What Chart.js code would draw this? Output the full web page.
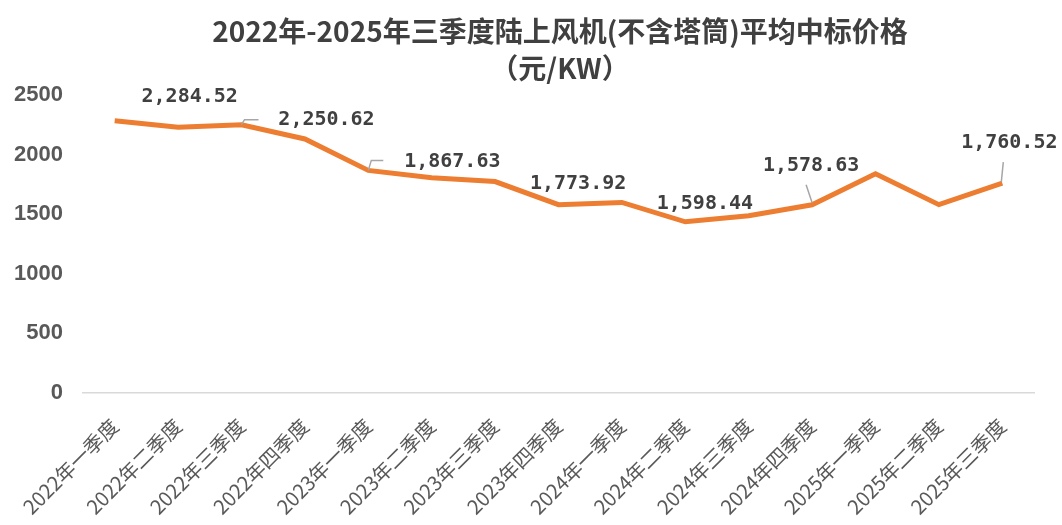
<!DOCTYPE html>
<html>
<head>
<meta charset="utf-8">
<script src="https://cdn.jsdelivr.net/npm/chart.js@4.4.1/dist/chart.umd.min.js"></script>
<style>
  html, body { margin: 0; background: #fff; }
  #wrap { width: 1062px; height: 525px; }
</style>
</head>
<body>
<div id="wrap"><canvas id="chart"></canvas></div>
<script>
const quarters = [
  '2022年一季度', '2022年二季度', '2022年三季度', '2022年四季度',
  '2023年一季度', '2023年二季度', '2023年三季度', '2023年四季度',
  '2024年一季度', '2024年二季度', '2024年三季度', '2024年四季度',
  '2025年一季度', '2025年二季度', '2025年三季度'
];
const prices = [
  2284.52, 2229, 2250.62, 2131,
  1867.63, 1806, 1773.92, 1580,
  1598.44, 1436, 1487, 1578.63,
  1840, 1580, 1760.52
];
const yTicks = [0, 500, 1000, 1500, 2000, 2500];
const labelledPoints = [0, 2, 4, 6, 8, 11, 14];
const titleLines = ['2022年-2025年三季度陆上风机(不含塔筒)平均中标价格', '（元/KW）'];

// where each value label sits relative to its point, plus its leader line
const labelPlacement = {
  0:  { dx: 75, dy: -24 },
  2:  { dx: 85, dy: -5,  leader: [[0, 0], [3, -5], [17, -5]] },
  4:  { dx: 84, dy: -9,  leader: [[0, 0], [3, -10], [15, -10]] },
  6:  { dx: 83, dy: 2 },
  8:  { dx: 83, dy: 1 },
  11: { dx: -1, dy: -39, leader: [[0, -2], [-6, -20]] },
  14: { dx: 7,  dy: -40, leader: [[-1, -1], [1, -21]] }
};

function formatPrice(v) {
  return v.toLocaleString('en-US', { minimumFractionDigits: 2, maximumFractionDigits: 2 });
}

// title drawn by hand: in the original it is centred a bit right of the plot
const chartTitle = {
  id: 'chartTitle',
  afterDraw(chart) {
    const ctx = chart.ctx;
    ctx.save();
    ctx.font = 'bold 28px "Noto Sans CJK SC"';
    ctx.fillStyle = '#404040';
    ctx.textAlign = 'center';
    ctx.textBaseline = 'middle';
    ctx.fillText(titleLines[0], 560, 31);
    ctx.fillText(titleLines[1], 560, 68);
    ctx.restore();
  }
};

const pointLabels = {
  id: 'pointLabels',
  afterDatasetsDraw(chart) {
    const ctx = chart.ctx;
    const meta = chart.getDatasetMeta(0);
    ctx.save();
    labelledPoints.forEach(i => {
      const pt = meta.data[i];
      const p = labelPlacement[i];
      if (p.leader) {
        ctx.beginPath();
        p.leader.forEach(([lx, ly], k) => {
          if (k === 0) ctx.moveTo(pt.x + lx, pt.y + ly);
          else ctx.lineTo(pt.x + lx, pt.y + ly);
        });
        ctx.strokeStyle = '#a6a6a6';
        ctx.lineWidth = 1.5;
        ctx.stroke();
      }
      ctx.font = 'bold 20px "DejaVu Sans Mono"';
      ctx.fillStyle = '#404040';
      ctx.textAlign = 'center';
      ctx.textBaseline = 'middle';
      ctx.fillText(formatPrice(prices[i]), pt.x + p.dx, pt.y + p.dy);
    });
    ctx.restore();
  }
};

const ctx = document.getElementById('chart').getContext('2d');
new Chart(ctx, {
  type: 'line',
  data: {
    labels: quarters,
    datasets: [{
      data: prices,
      borderColor: '#ed7d31',
      borderWidth: 5,
      pointRadius: 0,
      tension: 0,
      fill: false
    }]
  },
  options: {
    responsive: true,
    maintainAspectRatio: false,
    animation: false,
    layout: { padding: { top: 95, right: 28, left: 0, bottom: 0 } },
    plugins: {
      legend: { display: false },
      tooltip: { enabled: false },
      title: { display: false }
    },
    scales: {
      x: {
        offset: true,
        grid: { display: false },
        border: { color: '#d9d9d9', width: 1.5 },
        ticks: {
          autoSkip: false,
          minRotation: 45,
          maxRotation: 45,
          padding: 13,
          color: '#595959',
          font: { family: '"Noto Sans CJK SC"', size: 20 }
        },
        afterFit(scale) { scale.height = 132; }
      },
      y: {
        min: 0,
        max: 2500,
        grid: { display: false },
        border: { display: false },
        ticks: {
          padding: 12,
          color: '#595959',
          font: { family: '"Liberation Sans", Arial', size: 22, weight: 'bold' },
          callback: v => String(v)
        },
        afterBuildTicks(scale) { scale.ticks = yTicks.map(v => ({ value: v })); },
        afterFit(scale) { scale.width = 83; }
      }
    }
  },
  plugins: [pointLabels, chartTitle]
});
</script>
</body>
</html>
